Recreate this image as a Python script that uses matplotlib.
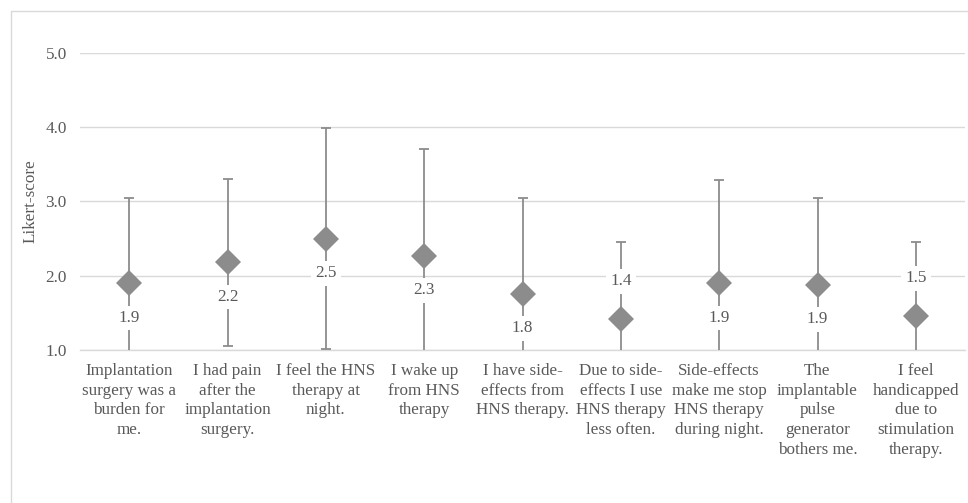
import matplotlib
matplotlib.use("Agg")
import matplotlib.pyplot as plt
from matplotlib.patches import Rectangle

# Questionnaire items (wrapped as they appear under the axis)
items = [
    "Implantation\nsurgery was a\nburden for\nme.",
    "I had pain\nafter the\nimplantation\nsurgery.",
    "I feel the HNS\ntherapy at\nnight.",
    "I wake up\nfrom HNS\ntherapy",
    "I have side-\neffects from\nHNS therapy.",
    "Due to side-\neffects I use\nHNS therapy\nless often.",
    "Side-effects\nmake me stop\nHNS therapy\nduring night.",
    "The\nimplantable\npulse\ngenerator\nbothers me.",
    "I feel\nhandicapped\ndue to\nstimulation\ntherapy.",
]
mean_score = [1.90, 2.18, 2.50, 2.27, 1.76, 1.42, 1.90, 1.88, 1.46]
sd_score = [1.15, 1.12, 1.49, 1.43, 1.28, 1.03, 1.39, 1.16, 0.99]
y_ticks = [1.0, 2.0, 3.0, 4.0, 5.0]

# which value labels sit above the marker instead of below
label_above = [False, False, False, False, False, True, False, False, True]

grey = "#8c8c8c"
text_grey = "#595959"
grid_grey = "#d9d9d9"
fsize = 12.3

plt.rcParams["font.family"] = ["Liberation Serif", "DejaVu Serif"]

fig = plt.figure(figsize=(9.68, 5.03), dpi=100)
ax = fig.add_axes([80 / 968, 1 - 350 / 503, 885 / 968, 297.3 / 503])

# chart area outline
fig.patches.append(Rectangle((11 / 968, -0.2), 1.2, 1.2 - 11 / 503,
                             transform=fig.transFigure, fill=False,
                             edgecolor=grid_grey, linewidth=1.0))

x = list(range(len(items)))
ax.errorbar(x, mean_score, yerr=sd_score, fmt="none", ecolor=grey,
            elinewidth=1.3, capsize=3.6, capthick=1.3, zorder=3)
ax.plot(x, mean_score, linestyle="none", marker="D", color=grey,
        markersize=13.5, markeredgewidth=0, zorder=3)

for i, (m, up) in enumerate(zip(mean_score, label_above)):
    dy = 27 if up else -25
    ax.annotate(f"{m:.1f}", (i, m), xytext=(0, dy), textcoords="offset points",
                ha="center", va="center", fontsize=fsize, color=text_grey,
                bbox=dict(boxstyle="square,pad=0.25", fc="white", ec="none"),
                zorder=4)

ax.set_xlim(-0.5, len(items) - 0.5)
ax.set_ylim(1.0, 5.0)
ax.set_yticks(y_ticks)
ax.set_yticklabels([f"{v:.1f}" for v in y_ticks])
ax.set_xticks(x)
ax.set_xticklabels(items, linespacing=1.3)
ax.tick_params(axis="both", length=0, labelsize=fsize, labelcolor=text_grey)
ax.tick_params(axis="x", pad=9.5)
ax.tick_params(axis="y", pad=9.5)

ax.grid(axis="y", color=grid_grey, linewidth=1.0, zorder=0)
ax.set_axisbelow(True)
for side in ["top", "right", "left"]:
    ax.spines[side].set_visible(False)
ax.spines["bottom"].set_color(grid_grey)
ax.spines["bottom"].set_linewidth(1.0)

ax.set_ylabel("Likert-score", fontsize=fsize, color=text_grey)
ax.yaxis.set_label_coords(-41 / 885, 0.5)

fig.savefig("out.png", dpi=100)
